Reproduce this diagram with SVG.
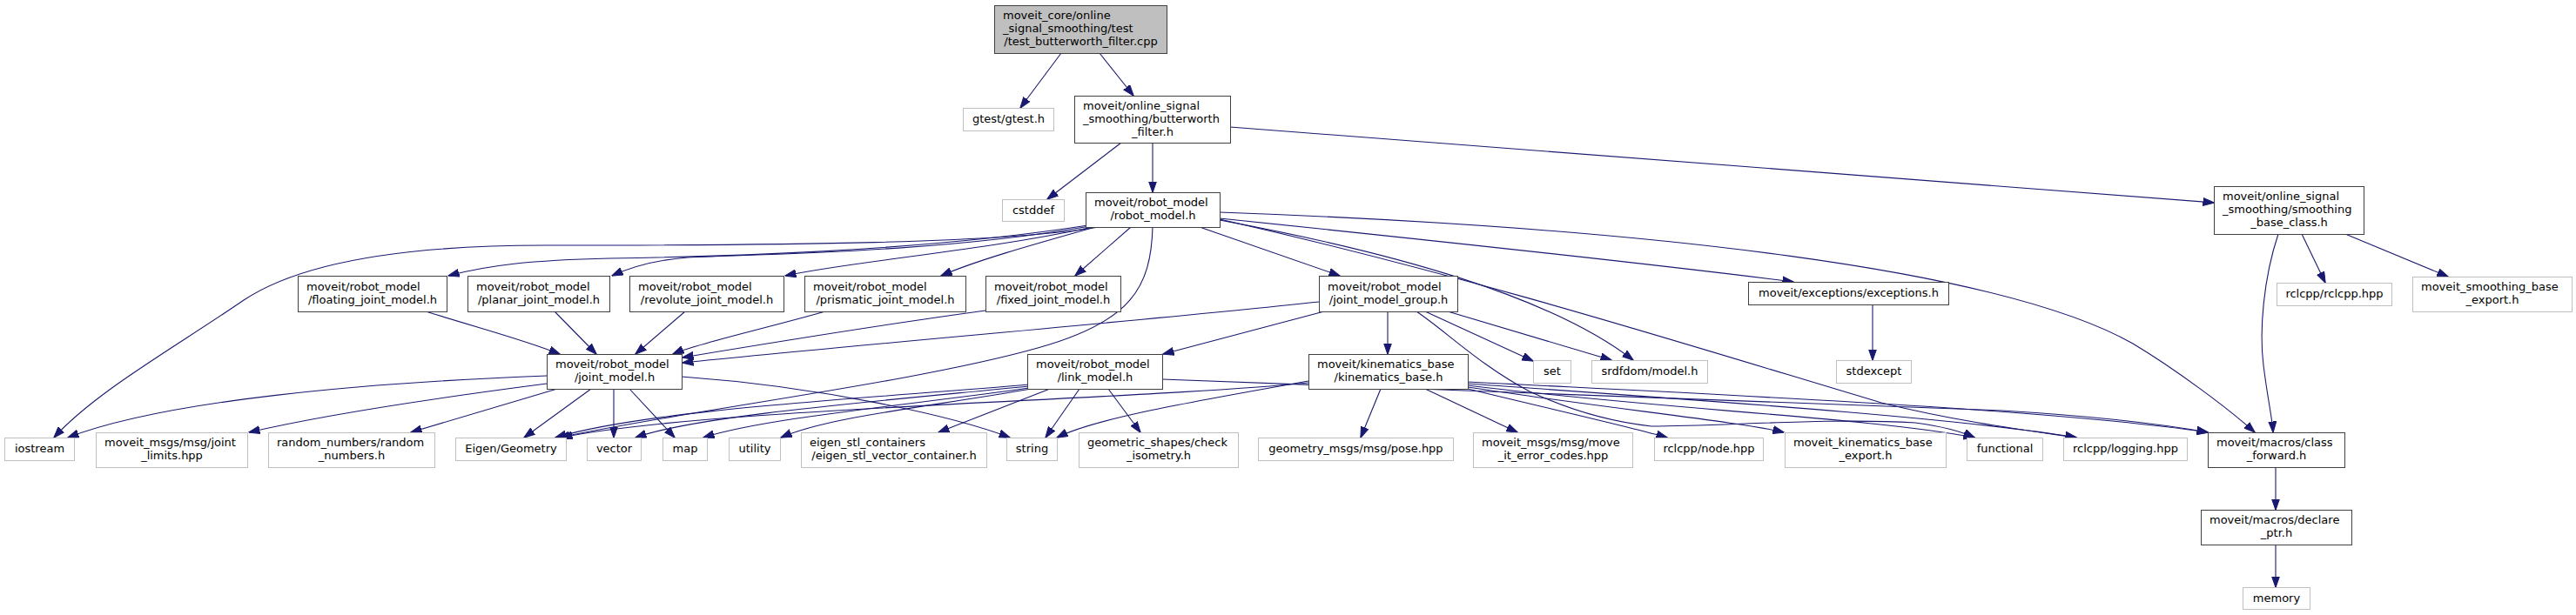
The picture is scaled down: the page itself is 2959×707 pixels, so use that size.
<svg xmlns="http://www.w3.org/2000/svg" width="2959" height="707" viewBox="0 0 2959 707">
<style>
text{font-family:"DejaVu Sans","Liberation Sans",sans-serif;font-size:13px;fill:#000}
.c{text-anchor:middle}
.doc rect{fill:#fff;stroke:#404040;stroke-width:1}
.ext rect{fill:#fff;stroke:#bfbfbf;stroke-width:1}
.root rect{fill:#bfbfbf;stroke:#404040;stroke-width:1}
#edges path{fill:none;stroke:#191970;stroke-width:1.1;marker-end:url(#a)}
</style>
<defs>
<marker id="a" markerUnits="userSpaceOnUse" markerWidth="13" markerHeight="10" viewBox="0 0 13 10" refX="12.5" refY="5" orient="auto"><path d="M0,0.5 L13,5 L0,9.5 z" fill="#191970" stroke="#191970" stroke-width="1"/></marker>
</defs>
<rect width="2959" height="707" fill="#fff"/>
<g id="edges">
<path d="M1219,61 L1172,124"/>
<path d="M1263,61 L1302,110"/>
<path d="M1288,164 L1203,229"/>
<path d="M1324,164 L1324,221"/>
<path d="M1413,146 L2543,233"/>
<path d="M1262,261 C1150,280 900,282 626,282 C450,282 340,305 280,345 C200,400 110,450 62,503"/>
<path d="M1250,259 C1050,290 820,295 700,297 C610,299 560,305 515,317"/>
<path d="M1252,260 C1080,290 880,292 790,296 C750,299 725,307 703,317"/>
<path d="M1255,261 C1120,290 980,300 902,317"/>
<path d="M1258,261 C1180,283 1120,300 1081,317"/>
<path d="M1299,261 L1235,317"/>
<path d="M1378,261 L1539,317"/>
<path d="M1324,261 C1322,330 1300,370 1192,400 C1050,440 800,470 642,503"/>
<path d="M1401,253 C1600,290 1780,340 1876,414"/>
<path d="M1401,251 C1700,282 1950,310 2060,324"/>
<path d="M1401,244 C1900,262 2300,310 2450,395 C2500,425 2560,470 2590,497"/>
<path d="M1401,252 C1700,320 1950,400 2161,463 C2250,485 2330,495 2385,503"/>
<path d="M489,358 C560,380 600,390 643,407"/>
<path d="M637,358 L685,407"/>
<path d="M787,358 L730,407"/>
<path d="M948,358 C870,380 800,395 773,407"/>
<path d="M1132,357 C1000,375 850,400 784,411"/>
<path d="M1515,347 C1300,370 1000,395 784,417"/>
<path d="M1521,358 L1336,407"/>
<path d="M1594,358 L1594,407"/>
<path d="M1637,358 L1761,415"/>
<path d="M1663,358 L1851,414"/>
<path d="M1627,358 C1660,380 1700,420 1757,450 C1800,470 1850,485 1897,490 C1980,490 2100,480 2200,486 C2230,490 2255,497 2268,503"/>
<path d="M2151,350 L2151,414"/>
<path d="M628,432 C420,440 190,460 78,503"/>
<path d="M628,441 C520,455 380,475 286,497"/>
<path d="M640,447 L472,497"/>
<path d="M679,447 L602,503"/>
<path d="M705,447 L705,503"/>
<path d="M723,447 L775,503"/>
<path d="M783,433 C950,445 1100,480 1160,503"/>
<path d="M1182,442 C1000,458 750,470 638,503"/>
<path d="M1182,444 C1000,462 800,478 730,503"/>
<path d="M1182,446 C1050,465 880,480 808,503"/>
<path d="M1185,447 C1050,470 950,480 897,503"/>
<path d="M1206,447 L1078,497"/>
<path d="M1240,447 L1201,503"/>
<path d="M1273,447 L1310,497"/>
<path d="M1335,436 C1600,448 2100,462 2300,472 C2400,478 2480,487 2536,497"/>
<path d="M1503,438 C1380,460 1260,480 1214,503"/>
<path d="M1503,440 C1300,460 800,470 645,503"/>
<path d="M1586,447 L1563,503"/>
<path d="M1637,447 L1743,497"/>
<path d="M1686,447 C1780,470 1870,490 1915,503"/>
<path d="M1686,445 C1850,470 2000,485 2049,497"/>
<path d="M1686,443 C1900,470 2150,480 2268,503"/>
<path d="M1686,441 C1950,460 2250,480 2385,503"/>
<path d="M1686,439 C2000,455 2350,470 2536,497"/>
<path d="M2617,269 C2600,320 2595,380 2600,420 C2605,460 2610,480 2611,497"/>
<path d="M2644,269 L2671,325"/>
<path d="M2694,269 L2812,318"/>
<path d="M2614,537 L2614,586"/>
<path d="M2614,626 L2614,675"/>
</g>
<g id="n_root" class="root"><rect x="1142.5" y="6.5" width="198" height="55"/><text x="1152" y="22">moveit_core/online</text><text x="1152" y="37">_signal_smoothing/test</text><text class="c" x="1241.5" y="52">/test_butterworth_filter.cpp</text></g>
<g id="n_gtest" class="ext"><rect x="1106.5" y="124.5" width="104" height="26"/><text class="c" x="1158.5" y="141">gtest/gtest.h</text></g>
<g id="n_butter" class="doc"><rect x="1234.5" y="110.5" width="179" height="54"/><text x="1244" y="126">moveit/online_signal</text><text x="1244" y="141">_smoothing/butterworth</text><text class="c" x="1324" y="156">_filter.h</text></g>
<g id="n_cstddef" class="ext"><rect x="1151.5" y="229.5" width="71" height="25"/><text class="c" x="1187" y="246">cstddef</text></g>
<g id="n_robot" class="doc"><rect x="1247.5" y="221.5" width="154" height="40"/><text x="1257" y="237">moveit/robot_model</text><text class="c" x="1324.5" y="252">/robot_model.h</text></g>
<g id="n_smooth" class="doc"><rect x="2543.5" y="214.5" width="172" height="55"/><text x="2553" y="230">moveit/online_signal</text><text x="2553" y="245">_smoothing/smoothing</text><text class="c" x="2629.5" y="260">_base_class.h</text></g>
<g id="n_rclcpp" class="ext"><rect x="2615.5" y="325.5" width="132" height="26"/><text class="c" x="2681.5" y="342">rclcpp/rclcpp.hpp</text></g>
<g id="n_sexport" class="ext"><rect x="2771.5" y="318.5" width="183" height="40"/><text x="2781" y="334">moveit_smoothing_base</text><text class="c" x="2863" y="349">_export.h</text></g>
<g id="n_floating" class="doc"><rect x="342.5" y="317.5" width="171" height="41"/><text x="352" y="334">moveit/robot_model</text><text class="c" x="428" y="349">/floating_joint_model.h</text></g>
<g id="n_planar" class="doc"><rect x="537.5" y="317.5" width="163" height="41"/><text x="547" y="334">moveit/robot_model</text><text class="c" x="619" y="349">/planar_joint_model.h</text></g>
<g id="n_revolute" class="doc"><rect x="723.5" y="317.5" width="177" height="41"/><text x="733" y="334">moveit/robot_model</text><text class="c" x="812" y="349">/revolute_joint_model.h</text></g>
<g id="n_prismatic" class="doc"><rect x="924.5" y="317.5" width="185" height="41"/><text x="934" y="334">moveit/robot_model</text><text class="c" x="1017" y="349">/prismatic_joint_model.h</text></g>
<g id="n_fixed" class="doc"><rect x="1132.5" y="317.5" width="155" height="41"/><text x="1142" y="334">moveit/robot_model</text><text class="c" x="1210" y="349">/fixed_joint_model.h</text></g>
<g id="n_jmg" class="doc"><rect x="1515.5" y="317.5" width="159" height="41"/><text x="1525" y="334">moveit/robot_model</text><text class="c" x="1595" y="349">/joint_model_group.h</text></g>
<g id="n_exceptions" class="doc"><rect x="2008.5" y="324.5" width="230" height="26"/><text class="c" x="2123.5" y="341">moveit/exceptions/exceptions.h</text></g>
<g id="n_jm" class="doc"><rect x="628.5" y="407.5" width="155" height="40"/><text x="638" y="423">moveit/robot_model</text><text class="c" x="706" y="438">/joint_model.h</text></g>
<g id="n_link" class="doc"><rect x="1180.5" y="407.5" width="155" height="40"/><text x="1190" y="423">moveit/robot_model</text><text class="c" x="1258" y="438">/link_model.h</text></g>
<g id="n_kb" class="doc"><rect x="1503.5" y="407.5" width="183" height="40"/><text x="1513" y="423">moveit/kinematics_base</text><text class="c" x="1595" y="438">/kinematics_base.h</text></g>
<g id="n_set" class="ext"><rect x="1761.5" y="414.5" width="43" height="26"/><text class="c" x="1783" y="431">set</text></g>
<g id="n_srdf" class="ext"><rect x="1828.5" y="414.5" width="133" height="26"/><text class="c" x="1895" y="431">srdfdom/model.h</text></g>
<g id="n_stdexcept" class="ext"><rect x="2109.5" y="414.5" width="86" height="26"/><text class="c" x="2152.5" y="431">stdexcept</text></g>
<g id="n_iostream" class="ext"><rect x="5.5" y="503.5" width="80" height="26"/><text class="c" x="45.5" y="520">iostream</text></g>
<g id="n_jlimits" class="ext"><rect x="110.5" y="497.5" width="174" height="40"/><text x="120" y="513">moveit_msgs/msg/joint</text><text class="c" x="197.5" y="528">_limits.hpp</text></g>
<g id="n_random" class="ext"><rect x="308.5" y="497.5" width="191" height="40"/><text x="318" y="513">random_numbers/random</text><text class="c" x="404" y="528">_numbers.h</text></g>
<g id="n_eigen" class="ext"><rect x="523.5" y="503.5" width="127" height="26"/><text class="c" x="587" y="520">Eigen/Geometry</text></g>
<g id="n_vector" class="ext"><rect x="674.5" y="503.5" width="62" height="26"/><text class="c" x="705.5" y="520">vector</text></g>
<g id="n_map" class="ext"><rect x="761.5" y="503.5" width="51" height="26"/><text class="c" x="787" y="520">map</text></g>
<g id="n_utility" class="ext"><rect x="837.5" y="503.5" width="59" height="26"/><text class="c" x="867" y="520">utility</text></g>
<g id="n_eigenstl" class="ext"><rect x="920.5" y="497.5" width="213" height="40"/><text x="930" y="513">eigen_stl_containers</text><text class="c" x="1027" y="528">/eigen_stl_vector_container.h</text></g>
<g id="n_string" class="ext"><rect x="1156.5" y="503.5" width="58" height="26"/><text class="c" x="1185.5" y="520">string</text></g>
<g id="n_geom" class="ext"><rect x="1239.5" y="497.5" width="183" height="40"/><text x="1249" y="513">geometric_shapes/check</text><text class="c" x="1331" y="528">_isometry.h</text></g>
<g id="n_pose" class="ext"><rect x="1445.5" y="503.5" width="224" height="26"/><text class="c" x="1557.5" y="520">geometry_msgs/msg/pose.hpp</text></g>
<g id="n_errcodes" class="ext"><rect x="1692.5" y="497.5" width="183" height="40"/><text x="1702" y="513">moveit_msgs/msg/move</text><text class="c" x="1784" y="528">_it_error_codes.hpp</text></g>
<g id="n_node" class="ext"><rect x="1900.5" y="503.5" width="125" height="26"/><text class="c" x="1963" y="520">rclcpp/node.hpp</text></g>
<g id="n_kbexport" class="ext"><rect x="2050.5" y="497.5" width="185" height="40"/><text x="2060" y="513">moveit_kinematics_base</text><text class="c" x="2143" y="528">_export.h</text></g>
<g id="n_functional" class="ext"><rect x="2259.5" y="503.5" width="87" height="26"/><text class="c" x="2303" y="520">functional</text></g>
<g id="n_logging" class="ext"><rect x="2370.5" y="503.5" width="142" height="26"/><text class="c" x="2441.5" y="520">rclcpp/logging.hpp</text></g>
<g id="n_classfwd" class="doc"><rect x="2536.5" y="497.5" width="157" height="40"/><text x="2546" y="513">moveit/macros/class</text><text class="c" x="2615" y="528">_forward.h</text></g>
<g id="n_declptr" class="doc"><rect x="2528.5" y="586.5" width="173" height="40"/><text x="2538" y="602">moveit/macros/declare</text><text class="c" x="2615" y="617">_ptr.h</text></g>
<g id="n_memory" class="ext"><rect x="2576.5" y="675.5" width="77" height="25"/><text class="c" x="2615" y="692">memory</text></g>
</svg>
